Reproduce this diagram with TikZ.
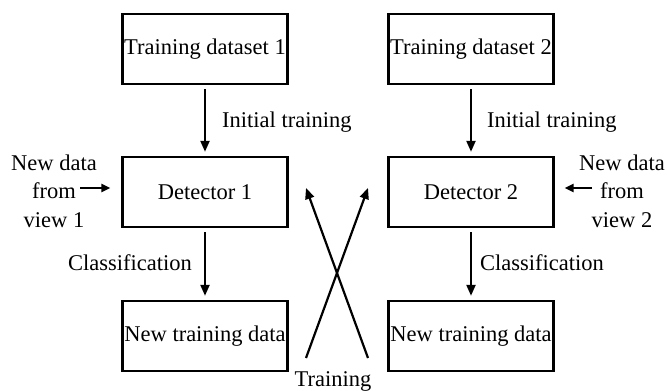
\documentclass[tikz,border=0pt]{standalone}
\usepackage{fontspec}
\setmainfont{Liberation Serif}
\usetikzlibrary{arrows.meta}
\begin{document}
\begin{tikzpicture}[x=1pt,y=-1pt,
  every node/.style={font=\fontsize{22.5}{28.5}\selectfont, inner sep=0pt},
  box/.style={draw, line width=2.4pt, minimum width=165pt, minimum height=70pt},
  arr/.style={line width=2.2pt, -{Triangle[length=11pt,width=9pt]}},
  sidearr/.style={line width=2.2pt, -{Triangle[length=9pt,width=8pt]}}]
\useasboundingbox (0,0) rectangle (667,391);
\node[box] (td1) at (205,49) {Training dataset 1};
\node[box] (td2) at (471,49) {Training dataset 2};
\node[box] (d1) at (205,192) {Detector 1};
\node[box] (d2) at (471,192) {Detector 2};
\node[box] (n1) at (205,336) {New training data};
\node[box] (n2) at (471,336) {New training data};
\draw[arr, shorten <=4pt, shorten >=4pt] (td1) -- (d1);
\draw[arr, shorten <=4pt, shorten >=4pt] (td2) -- (d2);
\draw[arr, shorten <=4pt, shorten >=4pt] (d1) -- (n1);
\draw[arr, shorten <=4pt, shorten >=4pt] (d2) -- (n2);
\node[anchor=base west] (it1) at (222,127) {Initial training};
\node[anchor=base west] (it2) at (487,127) {Initial training};
\node[anchor=base east] (c1) at (192,270) {Classification};
\node[anchor=base west] (c2) at (480,270) {Classification};
\node[align=center] (nd1) at (54,191) {New data\\from\\view 1};
\node[align=center] (nd2) at (622,191) {New data\\from\\view 2};
\coordinate (a1s) at (80,188);
\coordinate (a2s) at (592,188);
\draw[sidearr, shorten >=11pt] (a1s) -- (d1.west |- a1s);
\draw[sidearr, shorten >=10pt] (a2s) -- (d2.east |- a2s);
\node[anchor=base] (tr) at (333,386) {Training};
\coordinate (x1s) at (306,358);
\coordinate (x1e) at (368,188);
\coordinate (x2s) at (368,358);
\coordinate (x2e) at (306,188);
\draw[arr] (x1s) -- (x1e);
\draw[arr] (x2s) -- (x2e);
\end{tikzpicture}
\end{document}
